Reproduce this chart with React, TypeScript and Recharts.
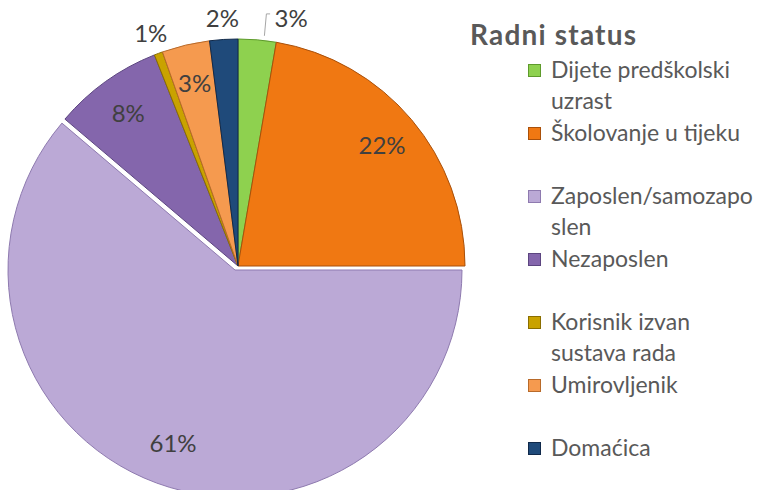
import { PieChart, Pie, Cell } from 'recharts';

const categories = [
    'Dijete predškolski uzrast',
    'Školovanje u tijeku',
    'Zaposlen/samozaposlen',
    'Nezaposlen',
    'Korisnik izvan sustava rada',
    'Umirovljenik',
    'Domaćica',
];
// shares in percent
const shares = [2.7, 22.3, 61.2, 7.8, 0.6, 3.4, 2.0];
// how the legend wraps each name
const legendLines = [
    ['Dijete predškolski', 'uzrast'],
    ['Školovanje u tijeku'],
    ['Zaposlen/samozapo', 'slen'],
    ['Nezaposlen'],
    ['Korisnik izvan', 'sustava rada'],
    ['Umirovljenik'],
    ['Domaćica'],
];
const colors = ['#8ed14f', '#f07812', '#bba9d6', '#8466ac', '#c9a200', '#f59a4f', '#1f4a7a'];
const edgeColors = ['#5e9a2c', '#a9500a', '#8e7aaf', '#5c4580', '#8a6e00', '#b86a2a', '#10294a'];

const data = categories.map((name, i) => ({ name, value: shares[i] }));

const RADIAN = Math.PI / 180;
const FONT = 'Lato, "Open Sans", sans-serif';

const renderLabel = (props: any) => {
    const { cx, cy, midAngle, outerRadius, percent, index } = props;
    const pct = Math.round(percent * 100);
    const inside = percent >= 0.03;
    const r = inside ? outerRadius * 0.83 : outerRadius + 22;
    let x = cx + r * Math.cos(-midAngle * RADIAN);
    const y = cy + r * Math.sin(-midAngle * RADIAN);
    if (index === 0) {
        // Excel pushed this one to the right, with a leader line
        const sx = cx + (outerRadius + 2) * Math.cos(-midAngle * RADIAN) + 7;
        const sy = cy + (outerRadius + 2) * Math.sin(-midAngle * RADIAN);
        x = x + 32;
        return (
            <g>
                <polyline points={`${sx},${sy - 2} ${sx + 2},${y - 4} ${x - 21},${y - 4}`} fill="none" stroke="#a6a6a6" strokeWidth={1} />
                <text x={x} y={y} fill="#404040" fontSize={24} fontFamily={FONT} textAnchor="middle" dominantBaseline="central">{`${pct}%`}</text>
            </g>
        );
    }
    return (
        <text x={x} y={y} fill="#404040" fontSize={24} fontFamily={FONT} textAnchor="middle" dominantBaseline="central">
            {`${pct}%`}
        </text>
    );
};

function LegendBox() {
    return (
        <div style={{ position: 'absolute', left: 470, top: 17, fontFamily: FONT, color: '#595959' }}>
            <div style={{ fontSize: 28, fontWeight: 700, lineHeight: '34px', letterSpacing: 1.2 }}>Radni status</div>
            <div style={{ marginLeft: 58, marginTop: 3 }}>
                {legendLines.map((lines, i) => (
                    <div key={categories[i]} style={{ height: 63, display: 'flex', alignItems: 'flex-start' }}>
                        <div
                            style={{
                                width: 13,
                                height: 13,
                                marginTop: 10,
                                marginRight: 10,
                                background: colors[i],
                                border: `1px solid ${edgeColors[i]}`,
                                boxSizing: 'border-box',
                            }}
                        />
                        <div style={{ fontSize: 23, lineHeight: '31px', whiteSpace: 'nowrap' }}>
                            {lines.map((l) => (
                                <div key={l}>{l}</div>
                            ))}
                        </div>
                    </div>
                ))}
            </div>
        </div>
    );
}

export default function App() {
    return (
        <div style={{ position: 'fixed', left: 0, top: 0, width: 778, height: 490, background: '#fff', overflow: 'hidden' }}>
            <PieChart width={778} height={490} margin={{ top: 0, right: 0, bottom: 0, left: 0 }}>
                <Pie
                    data={data}
                    dataKey="value"
                    nameKey="name"
                    cx={238}
                    cy={266}
                    outerRadius={227}
                    startAngle={90}
                    endAngle={-270}
                    label={renderLabel}
                    labelLine={false}
                    isAnimationActive={false}
                >
                    {data.map((d, i) => (
                        <Cell
                            key={d.name}
                            fill={colors[i]}
                            stroke={edgeColors[i]}
                            strokeWidth={1}
                            transform={i === 2 ? 'translate(-3,4)' : undefined}
                        />
                    ))}
                </Pie>
            </PieChart>
            <LegendBox />
        </div>
    );
}
